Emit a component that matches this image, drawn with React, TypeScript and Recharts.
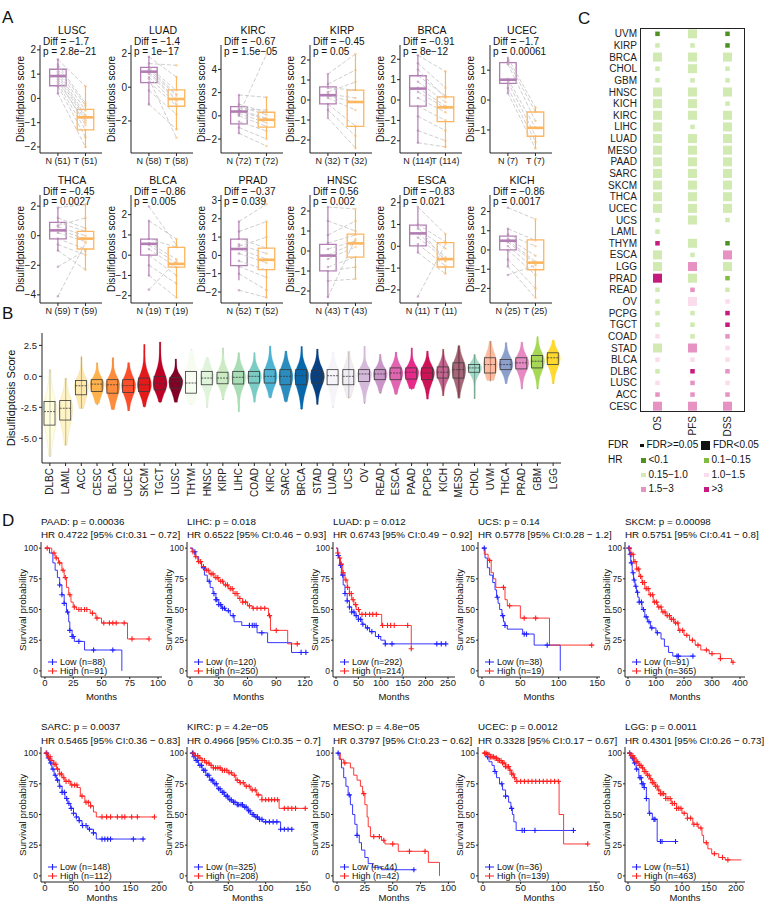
import React from "react";
import {
  ComposedChart,
  BarChart,
  ScatterChart,
  XAxis,
  YAxis,
  Bar,
  Line,
  Scatter,
  ReferenceArea,
  ReferenceLine,
} from "recharts";

const FONT = "'Liberation Sans', Arial, sans-serif";

// ---------- A: paired normal / tumour scores
const pairCancers = ["LUSC", "LUAD", "KIRC", "KIRP", "BRCA", "UCEC", "THCA", "BLCA", "PRAD", "HNSC", "ESCA", "KICH"];
const pairCounts = [51, 58, 72, 32, 114, 7, 59, 19, 52, 43, 11, 25];
const pairDiff = ["−1.7", "−1.4", "−0.67", "−0.45", "−0.91", "−1.7", "−0.45", "−0.86", "−0.37", "0.56", "−0.83", "−0.86"];
const pairP = ["2.8e−21", "1e−17", "1.5e−05", "0.05", "8e−12", "0.00061", "0.0027", "0.005", "0.039", "0.002", "0.021", "0.0017"];
const pairDomains = [
  [-2.25, 2.2], [-3.9, 2.5], [-3.2, 6.1], [-2.65, 2.75], [-2.6, 2.7], [-1.77, 1.84],
  [-4.55, 2.75], [-2.36, 2.97], [-2.6, 3.3], [-2.6, 2.8], [-2.6, 2.35], [-2.76, 2.86],
];
const pairTicks = [
  [-2, -1, 0, 1, 2], [-2, 0, 2], [-2, 0, 2, 4], [-2, -1, 0, 1, 2], [-2, -1, 0, 1, 2], [-1, 0, 1],
  [-4, -2, 0, 2], [-2, -1, 0, 1, 2], [-2, -1, 0, 1, 2, 3], [-2, -1, 0, 1, 2], [-2, -1, 0, 1, 2], [-2, -1, 0, 1, 2],
];
// [min, q1, median, q3, max]
const normalBox = [
  [0.18, 0.52, 0.92, 1.2, 1.63], [-1.09, 0.27, 0.92, 1.17, 1.83], [-1.49, -0.69, 0.37, 0.8, 1.8],
  [-0.86, -0.19, 0.24, 0.66, 1.29], [-2.12, -0.3, 0.56, 1.19, 2.21], [0.23, 0.56, 0.68, 1.25, 1.41],
  [-1.06, -0.22, 0.36, 0.9, 1.87], [-1.02, 0, 0.56, 0.79, 1.7], [-1.36, -0.56, 0.35, 0.89, 1.85],
  [-2.34, -0.99, -0.23, 0.33, 2.19], [-0.29, 0.02, 0.59, 0.97, 1.77], [-0.86, 0, 0.48, 0.72, 1.12],
];
const tumorBox = [
  [-2.04, -1.3, -0.78, -0.45, 0.5], [-2.53, -1.13, -0.7, -0.16, 0.62], [-2.0, -0.97, -0.34, 0.31, 1.6],
  [-2.44, -1.32, -0.1, 0.49, 2.27], [-2.36, -1.06, -0.36, 0.15, 1.43], [-1.62, -1.21, -0.93, -0.4, -0.25],
  [-2.29, -0.9, -0.2, 0.29, 2.16], [-2.11, -0.59, -0.43, 0.39, 0.79], [-2.33, -0.78, -0.24, 0.4, 1.85],
  [-1.4, -0.31, 0.38, 0.84, 2.06], [-1.26, -0.95, -0.59, 0.17, 0.56], [-2.5, -1.03, -0.66, 0.52, 1.58],
];
// [normal, tumour] for a subset of the matched samples
const pairValues = [
  [[1.6, 0.5], [1.4, -0.2], [1.2, -0.5], [1.1, -0.7], [1.0, -0.8], [0.9, -0.9], [0.8, -1.1], [0.6, -1.3], [0.5, -1.6], [0.2, -2.0], [1.3, -0.3], [0.7, -1.0]],
  [[1.8, 0.6], [1.4, 1.3], [1.2, -0.2], [1.0, -0.5], [0.9, -0.7], [0.8, -0.8], [0.6, -1.0], [0.3, -1.1], [-0.2, -1.6], [-1.0, -2.5], [0.5, -3.0], [1.1, -0.4]],
  [[1.8, 1.6], [1.0, 0.3], [0.8, 0.1], [0.5, -0.2], [0.4, -0.3], [0.2, -0.6], [0, -0.9], [-0.5, -1.3], [-1.0, -2.0], [-1.5, -2.6], [0.1, 5.3], [0.6, 0.5]],
  [[1.3, 2.3], [0.8, 1.5], [0.6, 0.5], [0.3, 0.1], [0.2, -0.1], [0.1, -0.5], [-0.2, -1.3], [-0.5, -1.8], [-0.9, -2.4], [0.4, 0.9]],
  [[2.2, 1.4], [1.8, 0.6], [1.2, 0.2], [0.9, -0.1], [0.6, -0.3], [0.4, -0.4], [0.1, -0.6], [-0.3, -1.0], [-0.8, -1.5], [-1.5, -2.0], [-2.1, -2.3], [1.5, 0.1]],
  [[1.41, -0.25], [1.3, -0.4], [1.2, -0.7], [0.7, -0.93], [0.6, -1.2], [0.4, -1.4], [0.23, -1.62]],
  [[1.9, 2.1], [1.2, 0.5], [0.9, 0.3], [0.6, 0], [0.4, -0.2], [0.2, -0.4], [-0.2, -0.9], [-0.6, -1.3], [-1.0, -2.3], [-4.1, -0.5], [-2.1, -1.0], [0.7, 1.2]],
  [[2.4, 0.5], [1.7, 0.8], [0.8, 0.4], [0.6, -0.2], [0.5, -0.4], [0.3, -0.6], [0, -1.0], [-0.5, -1.4], [-1.0, -2.1], [-1.7, -0.3]],
  [[1.85, 2.8], [1.3, 1.85], [0.9, 0.4], [0.6, 0.1], [0.35, -0.2], [0.1, -0.4], [-0.3, -0.8], [-0.6, -1.2], [-1.0, -1.9], [-1.9, -2.3], [0.5, 1.0]],
  [[2.2, 2.1], [1.5, 1.0], [0.4, 0.8], [0.1, 0.5], [-0.2, 0.4], [-0.4, 0.2], [-0.8, -0.3], [-1.0, -0.8], [-1.5, -1.4], [-2.3, 0.6], [0.8, 1.5]],
  [[1.8, 0.56], [1.0, 0.2], [0.8, -0.1], [0.6, -0.5], [0.4, -0.6], [0.1, -0.9], [-0.29, -1.26], [-2.3, 0.1], [0.9, -0.7]],
  [[2.2, 1.6], [1.1, 0.5], [0.8, 0.2], [0.6, -0.3], [0.5, -0.6], [0.4, -0.7], [0.2, -1.0], [0, -1.3], [-0.5, -2.0], [-0.86, -2.5], [-1.3, -0.8]],
];

// ---------- B: pan-cancer distribution
const panCancers = ["DLBC", "LAML", "ACC", "CESC", "BLCA", "UCEC", "SKCM", "TGCT", "LUSC", "THYM", "HNSC", "KIRP", "LIHC", "COAD", "KIRC", "SARC", "BRCA", "STAD", "LUAD", "UCS", "OV", "READ", "ESCA", "PAAD", "PCPG", "KICH", "MESO", "CHOL", "UVM", "THCA", "PRAD", "GBM", "LGG"];
const panMin = [-6.47, -5.57, -2.6, -2.3, -2.7, -2.8, -2.5, -2.17, -2.1, -2.3, -2.5, -1.9, -2.85, -2.1, -1.77, -2.1, -2.7, -2.3, -2.5, -1.77, -2.2, -1.4, -1.5, -1.09, -1.85, -1.58, -1.77, -1.82, -0.4, -0.6, -1.03, -1.03, -0.6];
const panQ1 = [-3.94, -3.53, -1.49, -1.22, -1.36, -1.3, -1.22, -1.09, -0.95, -1.36, -0.68, -0.6, -0.62, -0.54, -0.54, -0.68, -0.68, -0.54, -0.68, -0.68, -0.41, -0.27, -0.27, -0.22, -0.27, -0.14, -0.14, 0.33, 0.27, 0.54, 0.6, 0.68, 0.95];
const panMed = [-2.85, -2.58, -0.76, -0.63, -0.68, -0.75, -0.68, -0.6, -0.4, -0.54, -0.14, -0.14, -0.08, 0, 0, 0, 0.05, 0, 0.05, 0, 0.19, 0.19, 0.27, 0.33, 0.27, 0.33, 0.54, 0.68, 0.95, 0.95, 1.09, 1.22, 1.5];
const panQ3 = [-2.04, -1.96, -0.33, -0.27, -0.27, -0.27, -0.14, 0, -0.08, 0.4, 0.4, 0.33, 0.4, 0.4, 0.54, 0.54, 0.54, 0.49, 0.54, 0.54, 0.54, 0.54, 0.68, 0.68, 0.68, 0.76, 1.09, 0.95, 1.5, 1.36, 1.5, 1.68, 1.9];
const panMax = [0.54, -0.14, 1.58, 1.09, 1.5, 1.1, 2.58, 2.77, 1.4, 2.17, 1.5, 2.3, 1.9, 1.9, 2.45, 2.04, 2.4, 2.2, 1.9, 2.0, 2.45, 1.77, 1.96, 2.3, 2.04, 2.2, 2.5, 1.77, 2.85, 2.72, 2.77, 3.2, 2.93];
const panSparse = ["DLBC", "LAML", "ACC", "UCS", "KICH", "MESO", "CHOL", "UVM"];
const panColors = [
  "#FFFFCC", "#FFEDA0", "#FED976", "#FEB24C", "#FD8D3C", "#FC4E2A", "#E31A1C", "#BD0026", "#800026",
  "#F7FCF0", "#E0F3DB", "#CCEBC5", "#A8DDB5", "#7BCCC4", "#4EB3D3", "#2B8CBE", "#0868AC", "#084081",
  "#F7F4F9", "#E7E1EF", "#D4B9DA", "#C994C7", "#DF65B0", "#E7298A", "#CE1256", "#980043", "#67001F",
  "#66C2A5", "#FC8D62", "#8DA0CB", "#E78AC3", "#A6D854", "#FFD92F",
];

// ---------- C: survival HR matrix
const survCancers = ["UVM", "KIRP", "BRCA", "CHOL", "GBM", "HNSC", "KICH", "KIRC", "LIHC", "LUAD", "MESO", "PAAD", "SARC", "SKCM", "THCA", "UCEC", "UCS", "LAML", "THYM", "ESCA", "LGG", "PRAD", "READ", "OV", "PCPG", "TGCT", "COAD", "STAD", "BLCA", "DLBC", "LUSC", "ACC", "CESC"];
const survMetrics = ["OS", "PFS", "DSS"];
// HR class: a <0.1, b 0.1-0.15, c 0.15-1.0, d 1.0-1.5, e 1.5-3, f >3, "-" missing
const hrClass = [
  "a c c c c c c c c c c c c c c c c c f c c f c c c c d c d c d e e".split(" "),
  "c c c c c c c c c c c c c c c c c - c c e c e d c c c e d f e e e".split(" "),
  "a a c c c c c c c c c c c c c c c - a e c b c d f f e d d e d e e".split(" "),
];
const fdrSig = [
  [0, 0, 1, 0, 0, 1, 1, 1, 1, 1, 1, 1, 1, 1, 1, 1, 0, 0, 0, 1, 1, 1, 0, 0, 0, 0, 0, 1, 0, 0, 0, 0, 1],
  [1, 0, 1, 1, 0, 1, 1, 1, 0, 1, 1, 1, 1, 1, 1, 1, 1, 0, 1, 0, 1, 1, 0, 1, 0, 0, 0, 1, 0, 0, 0, 0, 1],
  [0, 0, 1, 0, 0, 1, 0, 1, 1, 1, 1, 1, 1, 1, 1, 1, 0, 0, 0, 1, 1, 0, 0, 0, 0, 0, 0, 0, 0, 0, 0, 0, 1],
];
const hrLabels = ["<0.1", "0.1−0.15", "0.15−1.0", "1.0−1.5", "1.5−3", ">3"];
const hrKeys = ["a", "b", "c", "d", "e", "f"];
const hrColors: Record<string, string> = { a: "#4d9221", b: "#7fbc41", c: "#d0eab2", d: "#fbdcec", e: "#e693c4", f: "#c51b7d" };

// ---------- D: Kaplan-Meier
const kmCancers = ["PAAD", "LIHC", "LUAD", "UCS", "SKCM", "SARC", "KIRC", "MESO", "UCEC", "LGG"];
const kmP = ["0.00036", "0.018", "0.012", "0.14", "0.00098", "0.0037", "4.2e−05", "4.8e−05", "0.0012", "0.0011"];
const kmHR = ["0.4722", "0.6522", "0.6743", "0.5778", "0.5751", "0.5465", "0.4966", "0.3797", "0.3328", "0.4301"];
const kmCI = ["0.31 − 0.72", "0.46 − 0.93", "0.49 − 0.92", "0.28 − 1.2", "0.41 − 0.8", "0.36 − 0.83", "0.35 − 0.7", "0.23 − 0.62", "0.17 − 0.67", "0.26 − 0.73"];
const kmNLow = [88, 120, 292, 38, 91, 148, 325, 44, 36, 51];
const kmNHigh = [91, 250, 214, 19, 365, 112, 208, 42, 139, 463];
const kmTicks = [
  [0, 25, 50, 75, 100], [0, 30, 60, 90, 120], [0, 50, 100, 150, 200, 250], [0, 50, 100, 150], [0, 100, 200, 300, 400],
  [0, 50, 100, 150, 200], [0, 50, 100, 150], [0, 25, 50, 75, 100], [0, 50, 100, 150], [0, 50, 100, 150, 200],
];
const kmDomains = [
  [-3.5, 103.5], [-3.2, 125.3], [-6.7, 265.6], [-5.2, 153.8], [-10.7, 417.9],
  [-7, 207], [-5.3, 156.7], [-3.6, 105.9], [-6.6, 155.3], [-5.6, 216.7],
];
// [months, survival %] change points
const kmLow = [
  [[0, 100], [4, 96], [7, 88], [9, 82], [11, 76], [13, 70], [15, 62], [17, 55], [19, 48], [21, 40], [22, 33], [24, 28], [26, 24], [35, 17], [68, 0]],
  [[0, 100], [3, 97], [6, 93], [9, 89], [12, 84], [15, 78], [18, 73], [21, 68], [24, 63], [27, 58], [30, 54], [33, 51], [37, 49], [42, 45], [46, 40], [54, 37], [70, 31], [81, 23], [106, 15], [123, 15]],
  [[0, 100], [4, 94], [8, 86], [12, 78], [16, 70], [20, 63], [25, 57], [30, 52], [35, 48], [42, 45], [50, 42], [58, 38], [66, 35], [75, 32], [88, 28], [100, 25], [110, 22], [245, 22]],
  [[0, 100], [4, 92], [7, 84], [10, 78], [14, 72], [17, 66], [19, 60], [21, 55], [23, 50], [26, 45], [28, 40], [30, 37], [33, 34], [53, 30], [68, 21], [102, 0]],
  [[0, 100], [5, 95], [10, 88], [15, 80], [20, 74], [25, 69], [30, 64], [35, 60], [40, 56], [50, 50], [60, 44], [70, 40], [80, 35], [100, 31], [118, 26], [130, 20], [145, 15], [160, 12], [232, 12]],
  [[0, 100], [4, 96], [8, 92], [12, 87], [16, 82], [20, 78], [25, 73], [30, 68], [35, 63], [40, 59], [45, 55], [50, 51], [55, 48], [60, 45], [65, 41], [75, 38], [85, 35], [90, 30], [175, 30]],
  [[0, 100], [3, 97], [6, 94], [10, 90], [15, 86], [20, 82], [25, 78], [30, 75], [35, 71], [40, 68], [45, 65], [50, 62], [55, 60], [62, 58], [70, 56], [76, 53], [80, 50], [85, 48], [90, 46], [96, 44], [120, 38], [137, 38]],
  [[0, 100], [2, 95], [4, 88], [6, 80], [8, 73], [10, 66], [12, 58], [14, 50], [16, 42], [18, 33], [20, 27], [22, 21], [25, 15], [28, 10], [32, 7], [40, 5], [70, 5]],
  [[0, 100], [4, 97], [8, 93], [12, 90], [15, 85], [18, 80], [22, 75], [26, 70], [30, 65], [34, 60], [37, 55], [39, 50], [41, 44], [44, 37], [120, 37]],
  [[0, 100], [5, 96], [10, 92], [15, 87], [20, 80], [25, 75], [30, 72], [34, 63], [39, 51], [45, 46], [54, 28], [90, 28]],
];
const kmHigh = [
  [[0, 100], [3, 100], [6, 96], [9, 92], [12, 88], [15, 82], [17, 76], [19, 68], [21, 62], [23, 56], [25, 52], [28, 50], [40, 47], [45, 43], [50, 39], [73, 26], [92, 26]],
  [[0, 100], [2, 97], [5, 93], [8, 89], [12, 85], [16, 82], [20, 79], [25, 76], [30, 73], [35, 70], [40, 67], [45, 63], [50, 59], [55, 56], [60, 53], [65, 51], [82, 45], [84, 33], [102, 22], [115, 22]],
  [[0, 100], [3, 96], [6, 92], [10, 87], [15, 80], [20, 74], [25, 68], [30, 63], [35, 58], [40, 54], [45, 50], [52, 46], [95, 46], [102, 37], [166, 37], [168, 18]],
  [[0, 100], [3, 95], [8, 90], [12, 80], [15, 75], [18, 68], [26, 68], [30, 58], [33, 53], [50, 43], [88, 21], [143, 21]],
  [[0, 100], [10, 95], [20, 89], [30, 83], [40, 77], [50, 72], [60, 67], [75, 62], [90, 56], [105, 52], [120, 48], [135, 45], [150, 42], [165, 39], [180, 33], [200, 29], [220, 25], [240, 21], [260, 17], [290, 14], [330, 10], [370, 7], [378, 7]],
  [[0, 100], [5, 97], [10, 94], [15, 91], [20, 87], [25, 83], [30, 80], [35, 77], [45, 74], [57, 72], [62, 65], [70, 60], [80, 57], [85, 52], [90, 48], [192, 48]],
  [[0, 100], [5, 98], [10, 96], [15, 94], [20, 92], [25, 90], [30, 88], [40, 86], [50, 84], [55, 82], [60, 78], [65, 76], [72, 73], [80, 70], [88, 66], [95, 62], [118, 55], [153, 55]],
  [[0, 100], [3, 95], [6, 92], [12, 88], [15, 82], [18, 78], [21, 73], [23, 67], [25, 58], [27, 48], [28, 40], [30, 32], [40, 29], [43, 26], [55, 20], [82, 11], [92, 0]],
  [[0, 100], [5, 99], [10, 97], [15, 96], [20, 94], [25, 92], [30, 89], [35, 86], [38, 83], [41, 80], [44, 77], [101, 50], [107, 26], [139, 26]],
  [[0, 100], [5, 98], [10, 96], [15, 93], [20, 90], [25, 88], [30, 85], [35, 82], [40, 79], [45, 76], [50, 73], [55, 70], [60, 67], [70, 63], [80, 59], [90, 55], [100, 51], [110, 47], [120, 42], [130, 39], [137, 33], [140, 27], [148, 22], [155, 18], [168, 15], [180, 13], [210, 13]],
];
// censoring times
const kmLowCens = [
  [13, 15, 17, 20, 22, 24, 25, 30, 43, 60],
  [5, 14, 20, 25, 27, 28, 30, 32, 34, 36, 40, 45, 62, 65, 67, 69, 75, 116, 121],
  [5, 10, 15, 20, 25, 30, 35, 40, 45, 50, 55, 60, 70, 80, 95, 110, 125, 225, 235, 245],
  [3, 20, 27, 30, 55, 58, 85],
  [3, 8, 12, 18, 22, 28, 34, 40, 48, 55, 65, 75, 85, 105, 175, 180, 232],
  [3, 6, 10, 14, 18, 22, 26, 30, 34, 38, 42, 46, 50, 55, 60, 66, 72, 78, 85, 100, 105, 110, 115, 155, 172],
  [2, 4, 7, 9, 12, 14, 17, 19, 22, 24, 27, 29, 32, 34, 37, 39, 42, 44, 47, 49, 52, 54, 57, 59, 62, 64, 67, 69, 72, 74, 77, 79, 82, 84, 87, 89, 92, 95, 100, 105, 110, 115, 120, 125, 130, 135],
  [1, 11, 18, 69],
  [6, 16, 25, 30, 38, 52, 55, 69, 120],
  [3, 8, 12, 16, 22, 24, 26, 28, 30, 34, 40, 48, 50, 60, 63, 88],
];
const kmHighCens = [
  [2, 8, 10, 13, 16, 18, 22, 26, 30, 32, 35, 37, 42, 46, 52, 57, 60, 63, 70, 77, 92],
  [3, 6, 9, 11, 14, 17, 19, 22, 24, 27, 29, 32, 34, 37, 39, 42, 44, 47, 49, 52, 55, 58, 62, 66, 70, 74, 78, 83, 90, 112],
  [4, 8, 12, 16, 22, 26, 30, 34, 38, 44, 50, 58, 66, 75, 82, 90, 104, 115, 122, 130, 160, 168],
  [10, 28, 36, 55, 70, 143],
  [5, 12, 18, 25, 32, 38, 45, 52, 58, 65, 72, 80, 88, 95, 102, 110, 118, 125, 132, 140, 148, 155, 162, 170, 178, 185, 195, 210, 230, 250, 280, 300, 330, 375],
  [2, 6, 9, 12, 16, 19, 22, 26, 29, 33, 37, 42, 47, 52, 56, 65, 72, 76, 80, 100, 108, 115, 127, 135, 140, 152, 162, 192],
  [3, 6, 9, 12, 15, 18, 21, 24, 27, 30, 33, 36, 39, 42, 45, 48, 51, 54, 58, 62, 66, 70, 74, 78, 82, 86, 90, 95, 100, 104, 108, 112, 116, 125, 130, 135, 140, 153],
  [7, 24, 33, 38, 42, 50, 65, 79],
  [2, 4, 6, 8, 10, 12, 14, 16, 18, 20, 22, 24, 26, 28, 30, 32, 34, 36, 38, 40, 42, 45, 50, 55, 60, 65, 70, 75, 80, 85, 90, 95, 100, 139],
  [3, 6, 9, 12, 15, 18, 21, 24, 27, 30, 33, 36, 39, 42, 45, 48, 51, 54, 57, 60, 63, 66, 70, 74, 78, 82, 86, 90, 94, 98, 104, 110, 116, 122, 128, 135, 145, 160, 175, 185],
];

// ---------- helpers
type TxtProps = {
  x: number;
  y: number;
  size?: number;
  anchor?: "start" | "middle" | "end";
  rotate?: boolean;
  color?: string;
  children: React.ReactNode;
};
const Txt = ({ x, y, size = 10, anchor = "start", rotate, color = "#111", children }: TxtProps) => {
  const tx = anchor === "start" ? "0" : anchor === "middle" ? "-50%" : "-100%";
  return (
    <div
      style={{
        position: "absolute",
        left: x,
        top: y,
        fontSize: size,
        lineHeight: 1,
        color,
        whiteSpace: "nowrap",
        transform: rotate ? "translate(-50%,-50%) rotate(-90deg)" : `translate(${tx},-50%)`,
      }}
    >
      {children}
    </div>
  );
};

const minus = (v: number) => (v < 0 ? "−" + Math.abs(v) : String(v));
const NCOL = "#b27db2";
const TCOL = "#fdb55e";

function boxEls(x: number, b: number[], color: string, key: string) {
  const hw = 0.3;
  return [
    <ReferenceLine key={key + "w1"} segment={[{ x, y: b[0] }, { x, y: b[1] }]} stroke={color} strokeWidth={1.2} />,
    <ReferenceLine key={key + "w2"} segment={[{ x, y: b[3] }, { x, y: b[4] }]} stroke={color} strokeWidth={1.2} />,
    <ReferenceArea key={key + "b"} x1={x - hw} x2={x + hw} y1={b[1]} y2={b[3]} fill="#fff" fillOpacity={0.15} stroke={color} strokeWidth={1.3} />,
    <ReferenceLine key={key + "m"} segment={[{ x: x - hw, y: b[2] }, { x: x + hw, y: b[2] }]} stroke={color} strokeWidth={2.6} />,
  ];
}

const dotShape = (color: string) => (p: any) => <circle cx={p.cx} cy={p.cy} r={1.3} fill={color} fillOpacity={0.55} />;

function PairPanel({ i }: { i: number }) {
  const axisX = [40, 131, 221, 310, 400, 490];
  const ax = axisX[i % 6];
  const plotTop = 45 + Math.floor(i / 6) * 150;
  const plotH = 108;
  const plotW = 62;
  const pairs = pairValues[i];
  const n = pairCounts[i];
  const nPts = pairs.map((p) => ({ x: 1, y: p[0] }));
  const tPts = pairs.map((p) => ({ x: 2, y: p[1] }));
  return (
    <>
      <Txt x={ax + 32} y={plotTop - 15.5} size={10.5} anchor="middle">{pairCancers[i]}</Txt>
      <Txt x={ax + 3} y={plotTop - 3} size={10}>Diff = {pairDiff[i]}</Txt>
      <Txt x={ax + 3} y={plotTop + 7} size={10}>p = {pairP[i]}</Txt>
      <Txt x={ax - 19} y={plotTop + plotH / 2} size={10} rotate>Disulfidptosis score</Txt>
      <div style={{ position: "absolute", left: ax - 16, top: plotTop }}>
        <ComposedChart width={16 + plotW + 4} height={plotH + 18} margin={{ top: 0, right: 4, bottom: 0, left: 0 }}>
          <XAxis
            type="number"
            dataKey="x"
            domain={[0.35, 2.6]}
            ticks={[1, 2]}
            interval={0}
            allowDataOverflow
            height={18}
            tickSize={3}
            tickFormatter={(v: number) => (v === 1 ? `N (${n})` : `T (${n})`)}
            tick={{ fontSize: 9, fill: "#222" }}
            axisLine={{ stroke: "#222" }}
            tickLine={{ stroke: "#222" }}
          />
          <YAxis
            type="number"
            domain={pairDomains[i]}
            ticks={pairTicks[i]}
            interval={0}
            allowDataOverflow
            width={16}
            tickSize={3}
            tickMargin={1}
            tickFormatter={minus}
            tick={{ fontSize: 10, fill: "#222" }}
            axisLine={{ stroke: "#222" }}
            tickLine={{ stroke: "#222" }}
          />
          {pairs.map((p, k) => (
            <ReferenceLine key={"p" + k} segment={[{ x: 1, y: p[0] }, { x: 2, y: p[1] }]} stroke="#c8c8c8" strokeWidth={0.9} strokeDasharray="4 2" />
          ))}
          {boxEls(1, normalBox[i], NCOL, "n")}
          {boxEls(2, tumorBox[i], TCOL, "t")}
          <Scatter data={nPts} dataKey="y" shape={dotShape(NCOL)} isAnimationActive={false} />
          <Scatter data={tPts} dataKey="y" shape={dotShape(TCOL)} isAnimationActive={false} />
        </ComposedChart>
      </div>
    </>
  );
}

// ---------- B
const panData = panCancers.map((name, i) => ({
  name,
  range: [panMin[i], panMax[i]],
  box: [panQ1[i], panQ3[i]],
  q1: panQ1[i],
  med: panMed[i],
  q3: panQ3[i],
}));

const violinShape = (props: any) => {
  const { x, y, width, height, payload, index } = props;
  const cx = x + width / 2;
  const top = Math.min(y, y + height);
  const h = Math.abs(height);
  const [lo, hi] = payload.range;
  const ppu = h / (hi - lo || 1);
  const ym = top + (hi - payload.med) * ppu;
  const sUp = Math.max(((payload.q3 - payload.med) * ppu) / 0.674, 2.5);
  const sDn = Math.max(((payload.med - payload.q1) * ppu) / 0.674, 2.5);
  const W = 7;
  const left: string[] = [];
  const right: string[] = [];
  for (let py = top; py <= top + h + 0.01; py += 1.2) {
    const s = py < ym ? sUp : sDn;
    const hw = 0.7 + (W - 0.7) * Math.exp(-0.5 * ((py - ym) / s) ** 2);
    left.push(`${(cx - hw).toFixed(1)},${py.toFixed(1)}`);
    right.unshift(`${(cx + hw).toFixed(1)},${py.toFixed(1)}`);
  }
  const color = panColors[index];
  const sparse = panSparse.includes(payload.name);
  return (
    <g>
      <line x1={cx} x2={cx} y1={top} y2={top + h} stroke="#444" strokeWidth={0.8} />
      <path
        d={`M${left.join("L")}L${right.join("L")}Z`}
        fill={color}
        fillOpacity={sparse ? 0.6 : 1}
        stroke={sparse ? "#d8c890" : color}
        strokeOpacity={0.6}
        strokeWidth={0.4}
      />
    </g>
  );
};

const boxShape = (props: any) => {
  const { x, y, width, height, payload } = props;
  const cx = x + width / 2;
  const top = Math.min(y, y + height);
  const h = Math.abs(height);
  const ym = top + ((payload.q3 - payload.med) / (payload.q3 - payload.q1 || 1)) * h;
  return (
    <g>
      <rect x={cx - 5.5} y={top} width={11} height={h} fill="none" stroke="#3a3a3a" strokeWidth={0.8} />
      <line x1={cx - 5.5} x2={cx + 5.5} y1={ym} y2={ym} stroke="#3a3a3a" strokeWidth={0.8} strokeDasharray="2 1" />
    </g>
  );
};

const vTick = (size: number) => (p: any) => (
  <text
    x={p.x}
    y={p.y}
    transform={`rotate(-90 ${p.x} ${p.y})`}
    textAnchor="end"
    dominantBaseline="central"
    fontSize={size}
    fill="#222"
  >
    {p.payload.value}
  </text>
);

function PanPanel() {
  return (
    <>
      <Txt x={11} y={398} size={11} rotate>Disulfidptosis Score</Txt>
      <div style={{ position: "absolute", left: 0, top: 330 }}>
        <BarChart width={566} height={169} data={panData} margin={{ top: 3, right: 5, bottom: 0, left: 10 }}>
          <XAxis
            xAxisId="a"
            dataKey="name"
            type="category"
            interval={0}
            height={36}
            tickSize={3}
            tick={vTick(10)}
            axisLine={{ stroke: "#222" }}
            tickLine={{ stroke: "#222" }}
          />
          <XAxis xAxisId="b" dataKey="name" type="category" hide />
          <YAxis
            type="number"
            domain={[-7, 3.5]}
            ticks={[-5, -2.5, 0, 2.5]}
            interval={0}
            allowDataOverflow
            width={32}
            tickSize={3}
            tickFormatter={(v: number) => v.toFixed(1)}
            tick={{ fontSize: 9.5, fill: "#222" }}
            axisLine={{ stroke: "#222" }}
            tickLine={{ stroke: "#222" }}
          />
          <Bar xAxisId="a" dataKey="range" barSize={14} shape={violinShape} isAnimationActive={false} />
          <Bar xAxisId="b" dataKey="box" barSize={11} shape={boxShape} isAnimationActive={false} />
        </BarChart>
      </div>
    </>
  );
}

// ---------- C
const survPoints: { m: string; c: string; hr: string; sig: number }[] = [];
survCancers.forEach((c, r) => {
  survMetrics.forEach((m, k) => {
    survPoints.push({ m, c, hr: hrClass[k][r], sig: fdrSig[k][r] });
  });
});

const squareShape = (p: any) => {
  if (p.payload.hr === "-") return <g />;
  const s = p.payload.sig ? 9 : 4.5;
  return <rect x={p.cx - s / 2} y={p.cy - s / 2} width={s} height={s} fill={hrColors[p.payload.hr]} />;
};

function SurvPanel() {
  const sq = (color: string, s: number) => (
    <span style={{ display: "inline-block", width: s, height: s, background: color, marginRight: 3, verticalAlign: "middle" }} />
  );
  return (
    <>
      <div style={{ position: "absolute", left: 640, top: 28, width: 105, height: 384, border: "1.3px solid #222", boxSizing: "border-box" }} />
      <div style={{ position: "absolute", left: 590, top: 25 }}>
        <ScatterChart width={160} height={417} margin={{ top: 3, right: 5, bottom: 0, left: 0 }}>
          <XAxis
            dataKey="m"
            type="category"
            allowDuplicatedCategory={false}
            interval={0}
            height={30}
            tickSize={0}
            tickMargin={4}
            tick={vTick(10)}
            axisLine={false}
          />
          <YAxis
            dataKey="c"
            type="category"
            allowDuplicatedCategory={false}
            reversed
            interval={0}
            width={50}
            tickSize={0}
            tickMargin={3}
            tick={{ fontSize: 10, fill: "#222" }}
            axisLine={false}
          />
          <Scatter data={survPoints} shape={squareShape} isAnimationActive={false} />
        </ScatterChart>
      </div>
      <Txt x={608} y={445}>FDR</Txt>
      <Txt x={640} y={445}>{sq("#111", 3.5)}FDR&gt;=0.05</Txt>
      <Txt x={701} y={445}>{sq("#111", 9)}FDR&lt;0.05</Txt>
      <Txt x={608} y={460}>HR</Txt>
      {hrKeys.map((k, j) => (
        <Txt key={k} x={j % 2 ? 704 : 641} y={460 + Math.floor(j / 2) * 14.5}>
          {sq(hrColors[k], 4.5)}
          {hrLabels[j]}
        </Txt>
      ))}
    </>
  );
}

// ---------- D
const crossShape = (color: string) => (p: any) => (
  <path d={`M${p.cx - 2.6},${p.cy}h5.2M${p.cx},${p.cy - 2.6}v5.2`} stroke={color} strokeWidth={1.1} />
);
const stepAt = (curve: number[][], t: number) => {
  let s = curve[0][1];
  curve.forEach((pt) => {
    if (pt[0] <= t) s = pt[1];
  });
  return s;
};
const LOW = "#2020ff";
const HIGH = "#ff2020";

function KmPanel({ i }: { i: number }) {
  const row = Math.floor(i / 5);
  const axisX = [41, 187, 333, 478, 625];
  const rights = [162, 310, 455, 600, 745, 163, 308, 455, 600, 745];
  const ax = axisX[i % 5];
  const right = rights[i];
  const plotTop = row ? 747 : 542;
  const plotH = 135;
  const low = kmLow[i].map((p) => ({ t: p[0], s: p[1] }));
  const high = kmHigh[i].map((p) => ({ t: p[0], s: p[1] }));
  const lowC = kmLowCens[i].map((t) => ({ t, s: stepAt(kmLow[i], t) }));
  const highC = kmHighCens[i].map((t) => ({ t, s: stepAt(kmHigh[i], t) }));
  const legendMark = (color: string) => (
    <svg width={9} height={7} style={{ verticalAlign: "middle", marginRight: 3 }}>
      <path d="M0,3.5h9M4.5,0.5v6" stroke={color} strokeWidth={1.1} />
    </svg>
  );
  return (
    <>
      <Txt x={ax} y={row ? 727 : 522} size={9.8}>{kmCancers[i]}: p = {kmP[i]}</Txt>
      <Txt x={ax} y={row ? 741 : 535} size={9.8}>HR {kmHR[i]} [95% CI:{kmCI[i]}]</Txt>
      <Txt x={ax - 18} y={plotTop + 68} size={9.8} rotate>Survival probability</Txt>
      <Txt x={(ax + right) / 2} y={row ? 898 : 697} size={9.5} anchor="middle">Months</Txt>
      <div style={{ position: "absolute", left: ax - 20, top: plotTop }}>
        <ComposedChart width={20 + right - ax + 9} height={plotH + 14} margin={{ top: 0, right: 9, bottom: 0, left: 0 }}>
          <XAxis
            type="number"
            dataKey="t"
            domain={kmDomains[i]}
            ticks={kmTicks[i]}
            interval={0}
            allowDataOverflow
            height={14}
            tickSize={2}
            tickMargin={0}
            tick={{ fontSize: 9.5, fill: "#222" }}
            axisLine={{ stroke: "#222" }}
            tickLine={{ stroke: "#222" }}
          />
          <YAxis
            type="number"
            domain={[-5, 105]}
            ticks={[0, 25, 50, 75, 100]}
            interval={0}
            allowDataOverflow
            width={20}
            tickSize={2}
            tickMargin={1}
            tick={{ fontSize: 8.5, fill: "#222" }}
            axisLine={{ stroke: "#222" }}
            tickLine={{ stroke: "#222" }}
          />
          <Line data={low} dataKey="s" type="stepAfter" stroke={LOW} strokeWidth={0.9} dot={false} isAnimationActive={false} />
          <Line data={high} dataKey="s" type="stepAfter" stroke={HIGH} strokeWidth={0.9} dot={false} isAnimationActive={false} />
          <Scatter data={lowC} dataKey="s" shape={crossShape(LOW)} isAnimationActive={false} />
          <Scatter data={highC} dataKey="s" shape={crossShape(HIGH)} isAnimationActive={false} />
        </ComposedChart>
      </div>
      <Txt x={ax + 7} y={plotTop + plotH - 15.5} size={9}>{legendMark(LOW)}Low (n={kmNLow[i]})</Txt>
      <Txt x={ax + 7} y={plotTop + plotH - 6} size={9}>{legendMark(HIGH)}High (n={kmNHigh[i]})</Txt>
    </>
  );
}

export default function App() {
  return (
    <div
      style={{
        position: "absolute",
        left: 0,
        top: 0,
        width: 764,
        height: 903,
        background: "#fff",
        fontFamily: FONT,
        overflow: "hidden",
      }}
    >
      <Txt x={2} y={17} size={17}>A</Txt>
      {pairCancers.map((_, i) => (
        <PairPanel key={i} i={i} />
      ))}
      <Txt x={2} y={313} size={17}>B</Txt>
      <PanPanel />
      <Txt x={578} y={18} size={17}>C</Txt>
      <SurvPanel />
      <Txt x={2} y={520} size={17}>D</Txt>
      {kmCancers.map((_, i) => (
        <KmPanel key={i} i={i} />
      ))}
    </div>
  );
}
